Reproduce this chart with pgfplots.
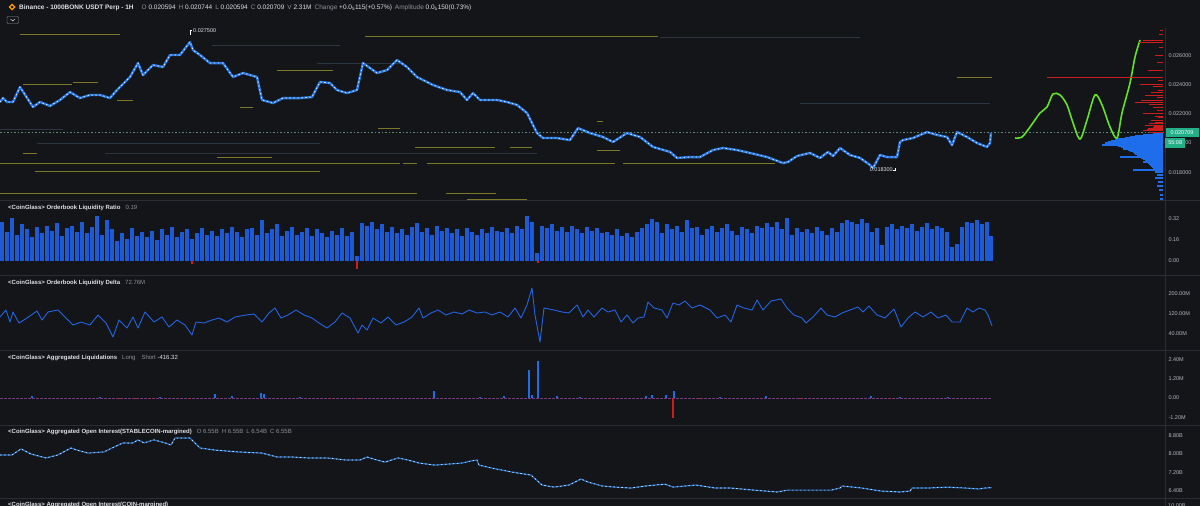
\documentclass[border=0pt]{standalone}
\usepackage{fontspec}
\setmainfont{Liberation Sans}
\usepackage{pgfplots}
\pgfplotsset{compat=1.18}

\definecolor{bg}{RGB}{20,21,25}
\definecolor{sep}{RGB}{43,45,52}
\definecolor{tickc}{RGB}{178,181,190}
\definecolor{ttl}{RGB}{222,224,230}
\definecolor{gr}{RGB}{140,144,152}
\definecolor{candle}{RGB}{40,120,228}
\definecolor{barblue}{RGB}{30,90,212}
\definecolor{lineblue}{RGB}{36,100,225}
\definecolor{olive}{RGB}{125,120,40}
\definecolor{faint}{RGB}{45,52,66}
\definecolor{lime}{RGB}{100,225,40}
\definecolor{askred}{RGB}{205,30,30}
\definecolor{bidblue}{RGB}{30,110,235}
\definecolor{tealbox}{RGB}{35,175,135}
\definecolor{oiblue}{RGB}{30,105,190}
\definecolor{pline}{RGB}{90,140,120}
\definecolor{liqbase}{RGB}{110,60,120}

\newcommand\hdr{\fontsize{6.5}{7.5}\selectfont}
\newcommand\ttlf{\fontsize{6}{7}\selectfont}
\newcommand\tkf{\fontsize{5.5}{6.5}\selectfont}

\pgfplotsset{
  panel/.style={scale only axis, width=1165pt, xmin=0, xmax=1165,
    anchor=north west, axis line style={draw=none}, tick style={draw=none},
    xtick=\empty, yticklabel pos=right, scaled y ticks=false,
    yticklabel style={font=\tkf, text=tickc, anchor=west}},
}

\begin{document}
\begin{tikzpicture}
\path[use as bounding box] (0,0) rectangle (1200pt,-506pt);
\fill[bg] (0,0) rectangle (1200pt,-506pt);
% separators
\foreach \yy in {200.5,275.5,350.5,425.5,498.5}
  \draw[sep, line width=0.8pt] (0,-\yy pt) -- (1200pt,-\yy pt);
\draw[sep, line width=0.8pt] (1165pt,-28pt) -- (1165pt,-506pt);

% header
\fill[orange!80!yellow] (12pt,-3.5pt) -- (15.5pt,-7pt) -- (12pt,-10.5pt) -- (8.5pt,-7pt) -- cycle;
\fill[bg] (12pt,-5.5pt) -- (13.5pt,-7pt) -- (12pt,-8.5pt) -- (10.5pt,-7pt) -- cycle;
\draw[gr, rounded corners=1pt, line width=0.4pt] (7pt,-16.5pt) rectangle (18.5pt,-23.5pt);
\draw[ttl, line width=0.5pt] (10.5pt,-19pt) -- (12.75pt,-21pt) -- (15pt,-19pt);
\node[anchor=west, font=\hdr, inner sep=0, text=ttl] at (19pt,-7.5pt)
  {\bfseries Binance - 1000BONK USDT Perp - 1H\hspace{8pt}\mdseries
   \textcolor{gr}{O} 0.020594\hspace{3pt}\textcolor{gr}{H} 0.020744\hspace{3pt}\textcolor{gr}{L} 0.020594\hspace{3pt}\textcolor{gr}{C} 0.020709\hspace{3pt}\textcolor{gr}{V} 2.31M\hspace{3pt}\textcolor{gr}{Change} +0.0\textsubscript{5}115(+0.57\%)\hspace{3pt}\textcolor{gr}{Amplitude} 0.0\textsubscript{5}150(0.73\%)};

% ---------------- price panel ----------------
\begin{axis}[panel, at={(0pt,-28pt)}, height=172pt,
  ymin=0.016107, ymax=0.027855,
  ytick={0.018,0.020,0.022,0.024,0.026},
  yticklabels={0.018000,0.020000,0.022000,0.024000,0.026000}]
% liquidity level lines
\addplot[olive, line width=1pt, unbounded coords=jump] coordinates {
 (20,0.027445) (120,0.027445) (120,nan)
 (365,0.027308) (658,0.027308) (658,nan)
 (23,0.023962) (72,0.023962) (72,nan)
 (73,0.024166) (98,0.024166) (98,nan)
 (117,0.022937) (133,0.022937) (133,nan)
 (240,0.022459) (253,0.022459) (253,nan)
 (277,0.024986) (333,0.024986) (333,nan)
 (378,0.021024) (400,0.021024) (400,nan)
 (23,0.019249) (37,0.019249) (37,nan)
 (217,0.019044) (272,0.019044) (272,nan)
 (0,0.018566) (400,0.018566) (400,nan)
 (403,0.018566) (417,0.018566) (417,nan)
 (427,0.018566) (615,0.018566) (615,nan)
 (623,0.018566) (775,0.018566) (775,nan)
 (35,0.018020) (320,0.018020) (320,nan)
 (0,0.016585) (417,0.016585) (417,nan)
 (446,0.016585) (496,0.016585) (496,nan)
 (467,0.016175) (527,0.016175) (527,nan)
 (415,0.019659) (495,0.019659) (495,nan)
 (510,0.019659) (532,0.019659) (532,nan)
 (597,0.019522) (620,0.019522) (620,nan)
 (597,0.021500) (603,0.021500) (603,nan)
 (957,0.024508) (992,0.024508)
};
\addplot[faint, line width=1pt, unbounded coords=jump] coordinates {
 (212,0.026693) (340,0.026693) (340,nan)
 (660,0.027240) (860,0.027240) (860,nan)
 (37,0.020000) (320,0.020000) (320,nan)
 (105,0.019249) (537,0.019249) (537,nan)
 (317,0.025464) (400,0.025464) (400,nan)
 (800,0.022732) (990,0.022732) (990,nan)
 (0,0.020956) (63,0.020956)
};
% current price line
\addplot[pline, line width=0.6pt, dash pattern=on 1.5pt off 2pt] coordinates {(0,0.020709) (1165,0.020709)};
% price path
\addplot[candle, line width=2.4pt, line join=round] coordinates {
 (0,0.02280) (3,0.02307) (7,0.02280) (13,0.02280) (20,0.02382) (33,0.02246)
 (40,0.02280) (50,0.02253) (60,0.02294) (70,0.02348) (80,0.02307) (90,0.02328)
 (100,0.02328) (110,0.02307) (117,0.02362) (130,0.02451) (138,0.02546) (143,0.02464)
 (153,0.02533) (163,0.02519) (170,0.02601) (180,0.02601) (190,0.02690) (193,0.02635)
 (200,0.02601) (210,0.02546) (223,0.02546) (233,0.02451) (243,0.02478) (257,0.02451)
 (262,0.02294) (273,0.02273) (283,0.02307) (300,0.02307) (312,0.02314) (320,0.02417)
 (330,0.02410) (337,0.02362) (347,0.02341) (357,0.02362) (363,0.02546) (377,0.02478)
 (387,0.02498) (397,0.02567) (400,0.02553) (407,0.02519) (417,0.02451) (433,0.02396)
 (447,0.02362) (460,0.02348) (467,0.02294) (473,0.02341) (480,0.02294) (497,0.02294)
 (507,0.02280) (517,0.02260) (527,0.02205) (537,0.02068) (543,0.02034) (557,0.02034)
 (570,0.02020) (578,0.02102) (590,0.02068) (603,0.02041) (613,0.02007) (627,0.02068)
 (640,0.02041) (653,0.01973) (670,0.01939) (677,0.01898) (690,0.01904) (700,0.01904)
 (713,0.01952) (723,0.01966) (737,0.01952) (750,0.01932) (767,0.01904) (783,0.01863)
 (788,0.01870) (797,0.01911) (810,0.01932) (820,0.01898) (828,0.01939) (833,0.01911)
 (840,0.01966) (850,0.01918) (860,0.01898) (870,0.01850) (873,0.01829) (880,0.01918)
 (887,0.01904) (897,0.01904) (900,0.02007) (903,0.02020) (913,0.02034) (927,0.02075)
 (937,0.02055) (947,0.02041) (952,0.01986) (957,0.02075) (967,0.02041) (977,0.02000)
 (987,0.01973) (990,0.02000) (991,0.02071)
};
\addplot[white, line width=0.8pt, dash pattern=on 1.5pt off 2.5pt, opacity=0.85] coordinates {
 (0,0.02280) (3,0.02307) (7,0.02280) (13,0.02280) (20,0.02382) (33,0.02246)
 (40,0.02280) (50,0.02253) (60,0.02294) (70,0.02348) (80,0.02307) (90,0.02328)
 (100,0.02328) (110,0.02307) (117,0.02362) (130,0.02451) (138,0.02546) (143,0.02464)
 (153,0.02533) (163,0.02519) (170,0.02601) (180,0.02601) (190,0.02690) (193,0.02635)
 (200,0.02601) (210,0.02546) (223,0.02546) (233,0.02451) (243,0.02478) (257,0.02451)
 (262,0.02294) (273,0.02273) (283,0.02307) (300,0.02307) (312,0.02314) (320,0.02417)
 (330,0.02410) (337,0.02362) (347,0.02341) (357,0.02362) (363,0.02546) (377,0.02478)
 (387,0.02498) (397,0.02567) (400,0.02553) (407,0.02519) (417,0.02451) (433,0.02396)
 (447,0.02362) (460,0.02348) (467,0.02294) (473,0.02341) (480,0.02294) (497,0.02294)
 (507,0.02280) (517,0.02260) (527,0.02205) (537,0.02068) (543,0.02034) (557,0.02034)
 (570,0.02020) (578,0.02102) (590,0.02068) (603,0.02041) (613,0.02007) (627,0.02068)
 (640,0.02041) (653,0.01973) (670,0.01939) (677,0.01898) (690,0.01904) (700,0.01904)
 (713,0.01952) (723,0.01966) (737,0.01952) (750,0.01932) (767,0.01904) (783,0.01863)
 (788,0.01870) (797,0.01911) (810,0.01932) (820,0.01898) (828,0.01939) (833,0.01911)
 (840,0.01966) (850,0.01918) (860,0.01898) (870,0.01850) (873,0.01829) (880,0.01918)
 (887,0.01904) (897,0.01904) (900,0.02007) (903,0.02020) (913,0.02034) (927,0.02075)
 (937,0.02055) (947,0.02041) (952,0.01986) (957,0.02075) (967,0.02041) (977,0.02000)
 (987,0.01973) (990,0.02000) (991,0.02071)
};
% hand-drawn projection
\addplot[lime, line width=1.6pt, smooth, tension=0.5] coordinates {
 (1015,0.02034) (1022,0.02041) (1030,0.02109) (1040,0.02205) (1047,0.02246)
 (1053,0.02335) (1060,0.02328) (1067,0.02260) (1073,0.02137) (1080,0.02027)
 (1087,0.02157) (1095,0.02328) (1102,0.02260) (1110,0.02109) (1117,0.02034)
 (1122,0.02205) (1130,0.02410) (1135,0.02587) (1140,0.02703)
};
\draw[white, line width=0.5pt] (axis cs:190,0.02740) -- (axis cs:190,0.02770) -- (axis cs:192,0.02770);
\node[anchor=west, font=\tkf, text=ttl, inner sep=0] at (axis cs:193,0.02770) {0.027500};
\draw[white, line width=0.5pt] (axis cs:895,0.01829) -- (axis cs:895,0.01815) -- (axis cs:893,0.01815);
\node[anchor=east, font=\tkf, text=ttl, inner sep=0] at (axis cs:893,0.01815) {0.018300};
\end{axis}

% order book depth
\begin{axis}[scale only axis, width=163pt, height=172pt, at={(1000pt,-28pt)}, anchor=north west,
  xmin=0, xmax=163, x dir=reverse, ymin=0.016107, ymax=0.027855, hide axis]
\addplot[xcomb, askred, line width=1pt] coordinates {
 (3,0.027718) (4,0.027445) (20,0.027035) (24,0.026898) (4,0.026489) (8,0.026010)
 (6,0.025532) (15,0.024986) (116,0.024508) (5,0.024303) (23,0.024030) (10,0.023893)
 (5,0.023620) (12,0.023483) (18,0.023278) (6,0.023074) (22,0.022937) (28,0.022800)
 (14,0.022664) (10,0.022459) (6,0.022254) (20,0.022049) (8,0.021844) (5,0.021708)
 (12,0.021571) (8,0.021434) (14,0.021366) (18,0.021229) (9,0.021161) (10,0.021093)
 (15,0.021024) (16,0.020956) (12,0.020888) (20,0.020820) (14,0.020751) (8,0.020683)
};
\addplot[xcomb, bidblue, line width=1.1pt] coordinates {
 (10,0.020615) (20,0.020546) (28,0.020478) (33,0.020410) (38,0.020342) (45,0.020273)
 (48,0.020205) (52,0.020137) (55,0.020068) (58,0.020000) (57,0.019932) (61,0.019863)
 (45,0.019795) (42,0.019727) (38,0.019659) (40,0.019590) (35,0.019522) (33,0.019454)
 (30,0.019385) (29,0.019317) (28,0.019249) (26,0.019181) (25,0.019112) (43,0.019044)
 (22,0.018976) (20,0.018907) (18,0.018839) (16,0.018771) (20,0.018703) (15,0.018634)
 (14,0.018566) (13,0.018498) (12,0.018429) (11,0.018361) (10,0.018293) (30,0.018156)
 (8,0.018020) (6,0.017814) (8,0.017610) (5,0.017336) (6,0.017063) (4,0.016790)
 (3,0.016448) (3,0.016175)
};
\end{axis}
\node[fill=tealbox, text=white, font=\tkf, inner sep=0, minimum width=33pt, minimum height=9.5pt] at (1182pt,-132.5pt) {0.020709};
\node[fill=tealbox, text=white, font=\tkf, inner sep=0, minimum width=20pt, minimum height=9.5pt, anchor=west] at (1165pt,-143pt) {55:08};

% ---------------- liquidity ratio ----------------
\begin{axis}[panel, at={(0pt,-201pt)}, height=74pt, ymin=-0.107, ymax=0.457,
  ytick={0,0.16,0.32}, yticklabels={0.00,0.16,0.32}]
\addplot[ycomb, barblue, line width=4.4pt] coordinates {
 (2,0.30) (7,0.22) (12,0.33) (17,0.20) (22,0.28) (27,0.24) (32,0.18) (37,0.26) (42,0.21) (47,0.27)
 (52,0.23) (57,0.29) (62,0.19) (67,0.25) (72,0.27) (77,0.22) (82,0.30) (87,0.21) (92,0.26) (97,0.34)
 (102,0.20) (107,0.31) (112,0.24) (117,0.15) (122,0.21) (127,0.17) (132,0.25) (137,0.19) (142,0.22) (147,0.18)
 (152,0.23) (157,0.16) (162,0.24) (167,0.20) (172,0.26) (177,0.18) (182,0.22) (187,0.24) (192,0.17) (197,0.21)
 (202,0.25) (207,0.20) (212,0.23) (217,0.19) (222,0.24) (227,0.21) (232,0.26) (237,0.22) (242,0.18) (247,0.24)
 (252,0.25) (257,0.20) (262,0.31) (267,0.21) (272,0.24) (277,0.28) (282,0.19) (287,0.23) (292,0.26) (297,0.20)
 (302,0.22) (307,0.25) (312,0.19) (317,0.24) (322,0.21) (327,0.18) (332,0.23) (337,0.20) (342,0.25) (347,0.19)
 (352,0.22) (357,0.04) (362,0.29) (367,0.27) (372,0.30) (377,0.24) (382,0.28) (387,0.22) (392,0.26) (397,0.21)
 (402,0.24) (407,0.20) (412,0.26) (417,0.29) (422,0.22) (427,0.25) (432,0.20) (437,0.27) (442,0.23) (447,0.25)
 (452,0.21) (457,0.24) (462,0.19) (467,0.25) (472,0.22) (477,0.20) (482,0.24) (487,0.21) (492,0.26) (497,0.23)
 (502,0.22) (507,0.25) (512,0.21) (517,0.27) (522,0.24) (527,0.34) (532,0.30) (537,0.06) (542,0.27) (547,0.25)
 (552,0.28) (557,0.23) (562,0.26) (567,0.22) (572,0.27) (577,0.24) (582,0.21) (587,0.26) (592,0.23) (597,0.25)
 (602,0.21) (607,0.22) (612,0.20) (617,0.24) (622,0.19) (627,0.21) (632,0.18) (637,0.22) (642,0.25) (647,0.28)
 (652,0.32) (657,0.30) (662,0.21) (667,0.28) (672,0.24) (677,0.27) (682,0.22) (687,0.31) (692,0.25) (697,0.26)
 (702,0.20) (707,0.24) (712,0.27) (717,0.22) (722,0.25) (727,0.28) (732,0.23) (737,0.20) (742,0.26) (747,0.24)
 (752,0.21) (757,0.27) (762,0.25) (767,0.29) (772,0.26) (777,0.30) (782,0.24) (787,0.33) (792,0.20) (797,0.25)
 (802,0.22) (807,0.24) (812,0.21) (817,0.26) (822,0.23) (827,0.20) (832,0.25) (837,0.22) (842,0.29) (847,0.31)
 (852,0.30) (857,0.28) (862,0.32) (867,0.29) (872,0.22) (877,0.25) (882,0.12) (887,0.26) (892,0.28) (897,0.24)
 (902,0.27) (907,0.25) (912,0.28) (917,0.23) (922,0.26) (927,0.29) (932,0.24) (937,0.27) (942,0.25) (947,0.22)
 (952,0.11) (957,0.13) (962,0.26) (967,0.30) (972,0.29) (977,0.31) (982,0.28) (987,0.30) (991,0.19)
};
\addplot[ycomb, askred, line width=1.2pt] coordinates {(192,-0.025) (357,-0.06) (538,-0.015)};
\end{axis}
\node[anchor=west, font=\ttlf, text=ttl, inner sep=0] at (8pt,-208pt) {\bfseries <CoinGlass> Orderbook Liquidity Ratio\hspace{5pt}\mdseries\textcolor{gr}{0.19}};

% ---------------- liquidity delta ----------------
\begin{axis}[panel, at={(0pt,-276pt)}, height=74pt, ymin=-24, ymax=272,
  ytick={40,120,200}, yticklabels={40.00M,120.00M,200.00M}]
\addplot[lineblue, line width=0.9pt, line join=round] coordinates {
 (0,108) (6,136) (10,88) (13,128) (19,84) (27,104) (37,132) (42,96) (48,128) (58,136)
 (65,108) (73,76) (81,88) (90,76) (98,116) (106,84) (113,28) (119,96) (127,64) (133,108)
 (138,64) (145,128) (154,88) (162,108) (169,68) (177,96) (185,76) (192,36) (196,88) (204,84)
 (212,96) (219,104) (227,88) (235,108) (246,116) (254,120) (262,88) (269,124) (275,144) (281,104)
 (288,116) (296,136) (304,116) (312,104) (319,84) (327,64) (335,88) (342,124) (350,104) (358,44)
 (362,76) (367,56) (373,104) (381,84) (388,108) (396,76) (404,88) (412,108) (419,144) (423,104)
 (431,124) (438,136) (446,116) (454,128) (462,120) (469,136) (477,124) (485,128) (492,116) (500,128)
 (508,108) (515,144) (521,104) (527,156) (532,224) (535,116) (540,8) (544,144) (554,136) (562,128)
 (569,124) (577,156) (583,108) (588,136) (594,108) (602,144) (608,128) (615,136) (621,88) (627,116)
 (633,84) (638,104) (644,108) (648,168) (654,144) (662,136) (667,104) (673,164) (679,156) (685,172)
 (692,144) (700,156) (710,136) (717,104) (725,116) (731,88) (737,156) (744,144) (752,136) (757,176)
 (763,136) (771,172) (781,180) (787,144) (794,116) (802,104) (806,84) (813,108) (821,144) (827,116)
 (835,108) (842,124) (850,136) (858,148) (863,128) (869,152) (877,116) (885,104) (894,140) (901,68)
 (908,104) (915,128) (923,108) (931,128) (938,104) (946,116) (952,88) (960,88) (967,144) (973,128)
 (979,144) (985,136) (988,116) (992,72.76)
};
\end{axis}
\node[anchor=west, font=\ttlf, text=ttl, inner sep=0] at (8pt,-283pt) {\bfseries <CoinGlass> Orderbook Liquidity Delta\hspace{5pt}\mdseries\textcolor{gr}{72.76M}};

% ---------------- liquidations ----------------
\begin{axis}[panel, at={(0pt,-351pt)}, height=74pt, ymin=-1.68, ymax=2.92,
  ytick={-1.2,0,1.2,2.4}, yticklabels={-1.20M,0.00,1.20M,2.40M}]
\addplot[liqbase, line width=0.5pt, dash pattern=on 3pt off 1pt] coordinates {(0,0) (992,0)};
\addplot[ycomb, bidblue, line width=1.2pt] coordinates {
 (32,0.10) (100,0.06) (160,0.05) (215,0.25) (232,0.15) (261,0.30) (264,0.25) (300,0.05)
 (434,0.44) (480,0.07) (504,0.10) (529,1.74) (532,0.20) (538,2.30) (557,0.15) (580,0.05)
 (646,0.15) (652,0.20) (666,0.20) (674,0.45) (720,0.06) (766,0.10) (871,0.10) (900,0.05) (948,0.08)
};
\addplot[ycomb, askred, line width=1.2pt] coordinates {
 (120,-0.05) (135,-0.06) (150,-0.04) (190,-0.05) (330,-0.04) (360,-0.05) (610,-0.04)
 (673,-1.24) (700,-0.05) (800,-0.04) (890,-0.03)
};
\end{axis}
\node[anchor=west, font=\ttlf, text=ttl, inner sep=0] at (8pt,-358pt) {\bfseries <CoinGlass> Aggregated Liquidations\hspace{5pt}\mdseries\textcolor{gr}{Long\hspace{6pt}Short} -416.32};

% ---------------- open interest ----------------
\begin{axis}[panel, at={(0pt,-426pt)}, height=72pt, ymin=6.10, ymax=9.21,
  ytick={6.4,7.2,8.0,8.8}, yticklabels={6.40B,7.20B,8.00B,8.80B}]
\addplot[oiblue, line width=1.2pt, line join=round] coordinates {
 (0,7.96) (12,7.96) (21,8.22) (31,8.00) (46,7.83) (58,7.96) (71,8.26) (77,8.17) (88,8.04)
 (104,8.09) (112,8.26) (123,8.48) (133,8.48) (138,8.61) (144,8.48) (154,8.61) (165,8.48)
 (171,8.39) (175,8.69) (185,8.69) (190,8.69) (200,8.26) (215,8.17) (238,8.09) (262,8.04)
 (277,7.87) (292,7.87) (308,7.83) (327,7.83) (346,7.74) (360,7.74) (367,7.87) (377,7.74)
 (385,7.65) (398,7.83) (408,7.74) (419,7.61) (435,7.52) (450,7.57) (462,7.61) (471,7.70)
 (477,7.74) (479,7.52) (492,7.39) (512,7.22) (531,7.09) (542,6.66) (554,6.57) (569,6.66)
 (581,6.92) (588,6.79) (602,6.62) (615,6.57) (631,6.53) (646,6.62) (665,6.70) (673,6.57)
 (696,6.66) (715,6.53) (731,6.53) (754,6.44) (777,6.36) (788,6.44) (808,6.44) (831,6.44)
 (840,6.53) (842,6.62) (862,6.53) (881,6.40) (900,6.36) (910,6.40) (912,6.53) (927,6.53)
 (948,6.57) (965,6.53) (979,6.49) (985,6.53) (992,6.55)
};
\addplot[white, line width=0.7pt, dash pattern=on 1.5pt off 2.5pt, opacity=0.85] coordinates {
 (0,7.96) (12,7.96) (21,8.22) (31,8.00) (46,7.83) (58,7.96) (71,8.26) (77,8.17) (88,8.04)
 (104,8.09) (112,8.26) (123,8.48) (133,8.48) (138,8.61) (144,8.48) (154,8.61) (165,8.48)
 (171,8.39) (175,8.69) (185,8.69) (190,8.69) (200,8.26) (215,8.17) (238,8.09) (262,8.04)
 (277,7.87) (292,7.87) (308,7.83) (327,7.83) (346,7.74) (360,7.74) (367,7.87) (377,7.74)
 (385,7.65) (398,7.83) (408,7.74) (419,7.61) (435,7.52) (450,7.57) (462,7.61) (471,7.70)
 (477,7.74) (479,7.52) (492,7.39) (512,7.22) (531,7.09) (542,6.66) (554,6.57) (569,6.66)
 (581,6.92) (588,6.79) (602,6.62) (615,6.57) (631,6.53) (646,6.62) (665,6.70) (673,6.57)
 (696,6.66) (715,6.53) (731,6.53) (754,6.44) (777,6.36) (788,6.44) (808,6.44) (831,6.44)
 (840,6.53) (842,6.62) (862,6.53) (881,6.40) (900,6.36) (910,6.40) (912,6.53) (927,6.53)
 (948,6.57) (965,6.53) (979,6.49) (985,6.53) (992,6.55)
};
\end{axis}
\node[anchor=west, font=\ttlf, text=ttl, inner sep=0] at (8pt,-432pt) {\bfseries <CoinGlass> Aggregated Open Interest(STABLECOIN-margined)\hspace{5pt}\mdseries\textcolor{gr}{O 6.55B\hspace{3pt}H 6.55B\hspace{3pt}L 6.54B\hspace{3pt}C 6.55B}};
\node[anchor=west, font=\ttlf, text=ttl, inner sep=0] at (8pt,-505pt) {\bfseries <CoinGlass> Aggregated Open Interest(COIN-margined)};
\node[anchor=west, font=\tkf, text=tickc, inner sep=0] at (1168pt,-506pt) {10.00B};
\end{tikzpicture}
\end{document}
